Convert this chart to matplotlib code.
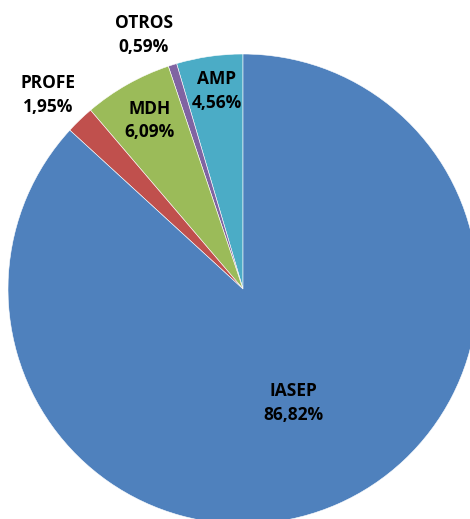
import numpy as np
import matplotlib.pyplot as plt

# datos (orden antihorario desde las 12)
names = ['AMP', 'OTROS', 'MDH', 'PROFE', 'IASEP']
pct = [4.56, 0.59, 6.09, 1.95, 86.82]
colors = ['#4BACC6', '#8064A2', '#9BBB59', '#C0504D', '#4F81BD']

# posición de etiquetas: distancia al centro y corrección de ángulo (grados)
lab_dist = [0.85, 1.16, 0.82, 1.17, 0.53]
lab_dang = [-0.7, 3.9, -0.4, 1.1, 0.0]

fig = plt.figure(figsize=(4.70, 5.19), dpi=100)
ax = fig.add_axes([0, 0, 1, 1])

wedges, _ = ax.pie(pct, colors=colors, startangle=90, counterclock=True,
                   radius=1.0, center=(0, 0),
                   wedgeprops=dict(edgecolor='white', linewidth=0.4))

for w, n, p, d, da in zip(wedges, names, pct, lab_dist, lab_dang):
    ang = np.deg2rad((w.theta1 + w.theta2) / 2 + da)
    x, y = d * np.cos(ang), d * np.sin(ang)
    txt = n + '\n' + ('%.2f' % p).replace('.', ',') + '%'
    ax.text(x, y, txt, ha='center', va='center', fontsize=12.5,
            fontweight='bold', family='Open Sans', color='black',
            linespacing=1.4)

# 235 px por unidad, centro en (243, 289) px
ax.set_xlim(-243 / 235, (470 - 243) / 235)
ax.set_ylim(-(519 - 289) / 235, 289 / 235)
ax.set_aspect('auto')
ax.axis('off')

fig.savefig('out.png', dpi=100, facecolor='white')
